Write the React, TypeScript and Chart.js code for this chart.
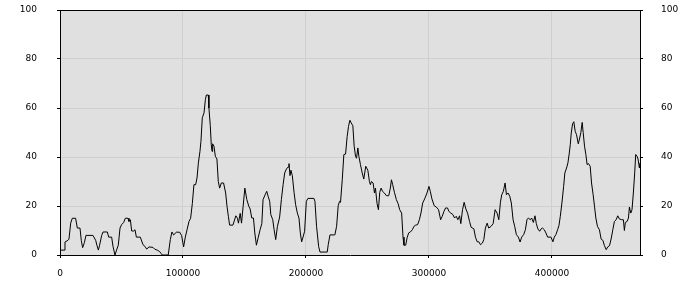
import React, { useEffect, useRef } from "react";
import { Chart, registerables } from "chart.js";

Chart.register(...registerables);

const positions: number[] = [
  0, 3300, 4065, 6500, 7300, 8700, 10000, 12700, 14100, 16260, 17300, 18400, 19800, 21100, 26800, 29000, 30000, 31200, 32200, 33900,
  35000, 38500, 39600, 42000, 43100, 44700, 46000, 47400, 48800, 50100, 51800, 53100, 55300, 56100, 57200, 58300, 59900, 61000, 62100, 65300,
  67500, 69100, 70500, 72400, 75600, 77000, 79400, 81000, 82400, 83200, 88000, 89700, 91000, 92400, 94600, 97300, 98900, 100500, 101900, 103300,
  104900, 106200, 107600, 108900, 110300, 111400, 112500, 113800, 114600, 115700, 117100, 118200, 119000, 120600, 121100, 122200, 123000, 123600, 124100, 125200,
  126300, 127600, 128700, 129800, 131200, 133000, 134700, 135800, 136900, 137900, 140600, 143000, 144300, 145100, 146500, 147600, 148900, 150300, 151900, 153500,
  154600, 155900, 157300, 158400, 159700, 161100, 162700, 164100, 165100, 166800, 168100, 169200, 170500, 171400, 173000, 174100, 175400, 176800, 178600, 180000,
  181400, 182700, 184100, 185400, 186200, 187000, 187800, 188900, 190300, 191600, 193000, 194300, 195400, 196500, 197600, 198900, 200300, 201600, 206500, 207300,
  208600, 210300, 211400, 217300, 218100, 219500, 223500, 224900, 226200, 227300, 228100, 229500, 230800, 232200, 233500, 234600, 235700, 236800, 238100, 239200,
  240300, 241100, 242200, 243000, 244300, 245700, 247000, 248600, 250300, 251600, 252400, 253200, 254600, 255700, 256500, 257800, 258900, 260000, 261100, 262200,
  263800, 265400, 267300, 268600, 269500, 270500, 271900, 273500, 274900, 276200, 277800, 278900, 279700, 281100, 282200, 283500, 284900, 286500, 287800, 289200,
  290800, 292200, 293500, 294900, 296500, 298400, 300000, 301100, 302400, 304300, 305900, 307800, 309500, 310800, 312200, 313500, 315100, 316200, 317800, 319500,
  320800, 322200, 323500, 324900, 325900, 327300, 328600, 330000, 331400, 333000, 334300, 336500, 337800, 339200, 340500, 341900, 343500, 344600, 345900, 347300,
  348600, 350500, 352200, 353800, 355400, 356800, 358100, 359200, 360500, 361900, 363000, 364300, 365700, 367000, 368400, 369700, 371100, 372700, 374100, 375400,
  377000, 378400, 379700, 380800, 382400, 383500, 384900, 386200, 387300, 388600, 390000, 391100, 392400, 393800, 395100, 396500, 399200, 400800, 401900, 403200,
  404600, 405700, 406800, 408100, 409500, 410500, 411900, 413000, 414100, 414900, 415700, 416800, 417800, 418900, 420000, 421400, 422400, 423500, 424600, 425400,
  426500, 427600, 428600, 429700, 431100, 432200, 433500, 434600, 435700, 437000, 438600, 440000, 441400, 442700, 444100, 445400, 446800, 448100, 449500, 450800,
  452200, 453500, 454900, 456800, 458100, 458900, 459700, 461100, 462200, 463000, 464100, 465100, 466200, 467300, 468100, 469200, 470000, 471100, 471600,
];

const values: number[] = [
  2, 2, 5.3, 6, 6.5, 13, 15, 15, 11, 11, 6, 3, 5, 8, 8, 6, 4, 2, 4, 8,
  9.4, 9.4, 7.3, 7.3, 3.5, 0, 2, 4, 11, 12.4, 13.3, 15, 15, 13.7, 14.4, 9.8, 9.8, 10.3, 7.3, 7.3,
  4.2, 3.5, 2.4, 3.3, 3.1, 2.4, 1.9, 1.4, 0.5, 0, 0, 6.3, 9.4, 8.2, 9.3, 9.3, 7.9, 3.3, 7.3, 10.3,
  13.7, 15, 21, 28.7, 28.7, 31.4, 37.5, 42.3, 46.4, 56, 58, 63.4, 65.3, 65.3, 60, 52.8, 45, 42.3, 45.4, 44.4,
  40.3, 39.2, 30, 27.3, 29.4, 29.4, 25.3, 19.9, 15.8, 12.2, 12.2, 16, 15, 13, 17, 13, 19.9, 27.3, 22.6, 19.9,
  18.8, 15.1, 15.1, 9, 4, 7, 10.3, 12.8, 22.6, 24.6, 26, 24, 21.9, 16.5, 14.4, 10.3, 6.3, 11.7, 15.5, 22.6,
  28.7, 33.5, 35.1, 35.9, 37.3, 32.4, 34.6, 32.4, 25.6, 20.5, 17.1, 15.1, 9, 5.4, 7.3, 9.7, 21.9, 23.1, 23.1, 21.9,
  11.7, 3.5, 1.2, 1.2, 4.2, 8.2, 8.2, 11.7, 20.1, 21.9, 21.5, 30.7, 41, 41.2, 48.4, 52.5, 55, 53.9, 52.8, 44.4,
  40.3, 39.5, 43.7, 40.3, 36.9, 33.5, 31, 36.2, 34.6, 30, 28.7, 30, 29.4, 25.3, 27.3, 21, 18.5, 25.6, 27.3, 26,
  25.3, 24.2, 24.2, 27.3, 30.7, 28.7, 25.6, 22.6, 21, 18.5, 17.1, 7.3, 4, 4, 7, 9, 9.4, 10.3, 11.7, 12.2,
  12.4, 14.4, 17.1, 21.2, 22.9, 25.3, 28, 26, 22.9, 20.1, 19.6, 18.5, 14.4, 15.8, 17.8, 19.2, 19.2, 17.8, 17.1, 16.5,
  15.1, 15.8, 14.4, 16, 12.8, 18.5, 21.5, 18.8, 17.1, 13.7, 11.3, 10.7, 7.3, 5.4, 5.4, 4.2, 4.9, 6.3, 11, 13,
  11, 11.7, 12.8, 18.5, 17.1, 14.4, 21.5, 24.6, 26, 29.4, 24.6, 25.3, 24, 21.2, 14.4, 11.7, 8.3, 7.3, 5.3, 7.3,
  8.3, 10.3, 14.4, 15.1, 14.4, 15.1, 13.3, 16, 12.8, 10.6, 9.7, 10.6, 11, 10.3, 9, 7.3, 7.3, 5.4, 7.3, 8.3,
  10.3, 12, 15.8, 21.2, 28, 33.5, 35.5, 37.6, 41.6, 45, 49.8, 53.6, 54.4, 50.5, 49.1, 45.4, 47.3, 50, 54.1, 50,
  44.4, 41, 36.9, 37.3, 36.2, 29.4, 24.6, 19.9, 15.1, 11.7, 10.3, 6.5, 6, 3.8, 2.2, 3.3, 3.8, 6.5, 10.3, 13.7,
  14.4, 16, 14.7, 14.4, 14.4, 10, 13.3, 13.7, 15.1, 19.6, 17.1, 18.5, 25.3, 33.5, 41, 40.3, 39.2, 35.5, 37.6,
];

const xMax = 471600;
const xTickStep = 100000;
const yMin = 0;
const yMax = 100;
const yTickStep = 20;

const FONT = { family: "'DejaVu Sans'", size: 9 };

const areaFrame = {
  id: "areaFrame",
  beforeDraw(chart: any) {
    const { ctx, chartArea } = chart;
    if (!chartArea) return;
    ctx.save();
    ctx.fillStyle = "#e0e0e0";
    ctx.fillRect(chartArea.left, chartArea.top, chartArea.right - chartArea.left, chartArea.bottom - chartArea.top);
    ctx.restore();
  },
  afterDraw(chart: any) {
    const { ctx, chartArea } = chart;
    if (!chartArea) return;
    ctx.save();
    ctx.strokeStyle = "#000";
    ctx.lineWidth = 1;
    ctx.beginPath();
    const t = Math.round(chartArea.top) + 0.5;
    ctx.moveTo(chartArea.left, t);
    ctx.lineTo(chartArea.right, t);
    ctx.stroke();
    ctx.restore();
  },
};

const fitVertical = (s: any) => {
  s.width = 60;
  s.paddingTop = 0;
  s.paddingBottom = 0;
};

export default function App() {
  const canvasRef = useRef<HTMLCanvasElement | null>(null);

  useEffect(() => {
    document.body.style.margin = "0";
    const canvas = canvasRef.current;
    if (!canvas) return;
    const points = positions.map((x, i) => ({ x, y: values[i] }));
    const chart = new Chart(canvas, {
      type: "line",
      data: {
        datasets: [
          {
            data: points,
            borderColor: "#000000",
            borderWidth: 1,
            pointRadius: 0,
            tension: 0,
            fill: false,
          },
        ],
      },
      options: {
        animation: false,
        responsive: false,
        maintainAspectRatio: false,
        layout: { padding: { top: 10, left: 0, right: 0, bottom: 0 } },
        plugins: {
          legend: { display: false },
          tooltip: { enabled: false },
        },
        scales: {
          x: {
            type: "linear",
            position: "bottom",
            min: 0,
            max: xMax,
            afterFit: (s: any) => { s.height = 45; s.paddingLeft = 0; s.paddingRight = 0; },
            afterBuildTicks: (s: any) => {
              const t = [];
              for (let v = 0; v <= xMax; v += xTickStep) t.push({ value: v });
              s.ticks = t;
            },
            ticks: { color: "#000", font: FONT, padding: 10, maxRotation: 0, autoSkip: false, callback: (v: any) => String(v) },
            grid: { color: "#cfcfcf", tickColor: "#000", tickLength: 3, lineWidth: 1 },
            border: { color: "#000", width: 1 },
          },
          y: {
            type: "linear",
            position: "left",
            min: yMin,
            max: yMax,
            afterFit: fitVertical,
            ticks: { stepSize: yTickStep, color: "#000", font: FONT, padding: 20 },
            grid: { color: "#cfcfcf", tickColor: "#000", tickLength: 3, lineWidth: 1 },
            border: { color: "#000", width: 1 },
          },
          y2: {
            type: "linear",
            position: "right",
            min: yMin,
            max: yMax,
            afterFit: fitVertical,
            ticks: { stepSize: yTickStep, color: "#000", font: FONT, padding: 18 },
            grid: { color: "rgba(0,0,0,0)", tickColor: "#000", tickLength: 3, lineWidth: 1 },
            border: { color: "#000", width: 1 },
          },
        },
      },
      plugins: [areaFrame],
    });
    return () => chart.destroy();
  }, []);

  return <canvas ref={canvasRef} width={700} height={300} style={{ display: "block", width: 700, height: 300 }} />;
}
